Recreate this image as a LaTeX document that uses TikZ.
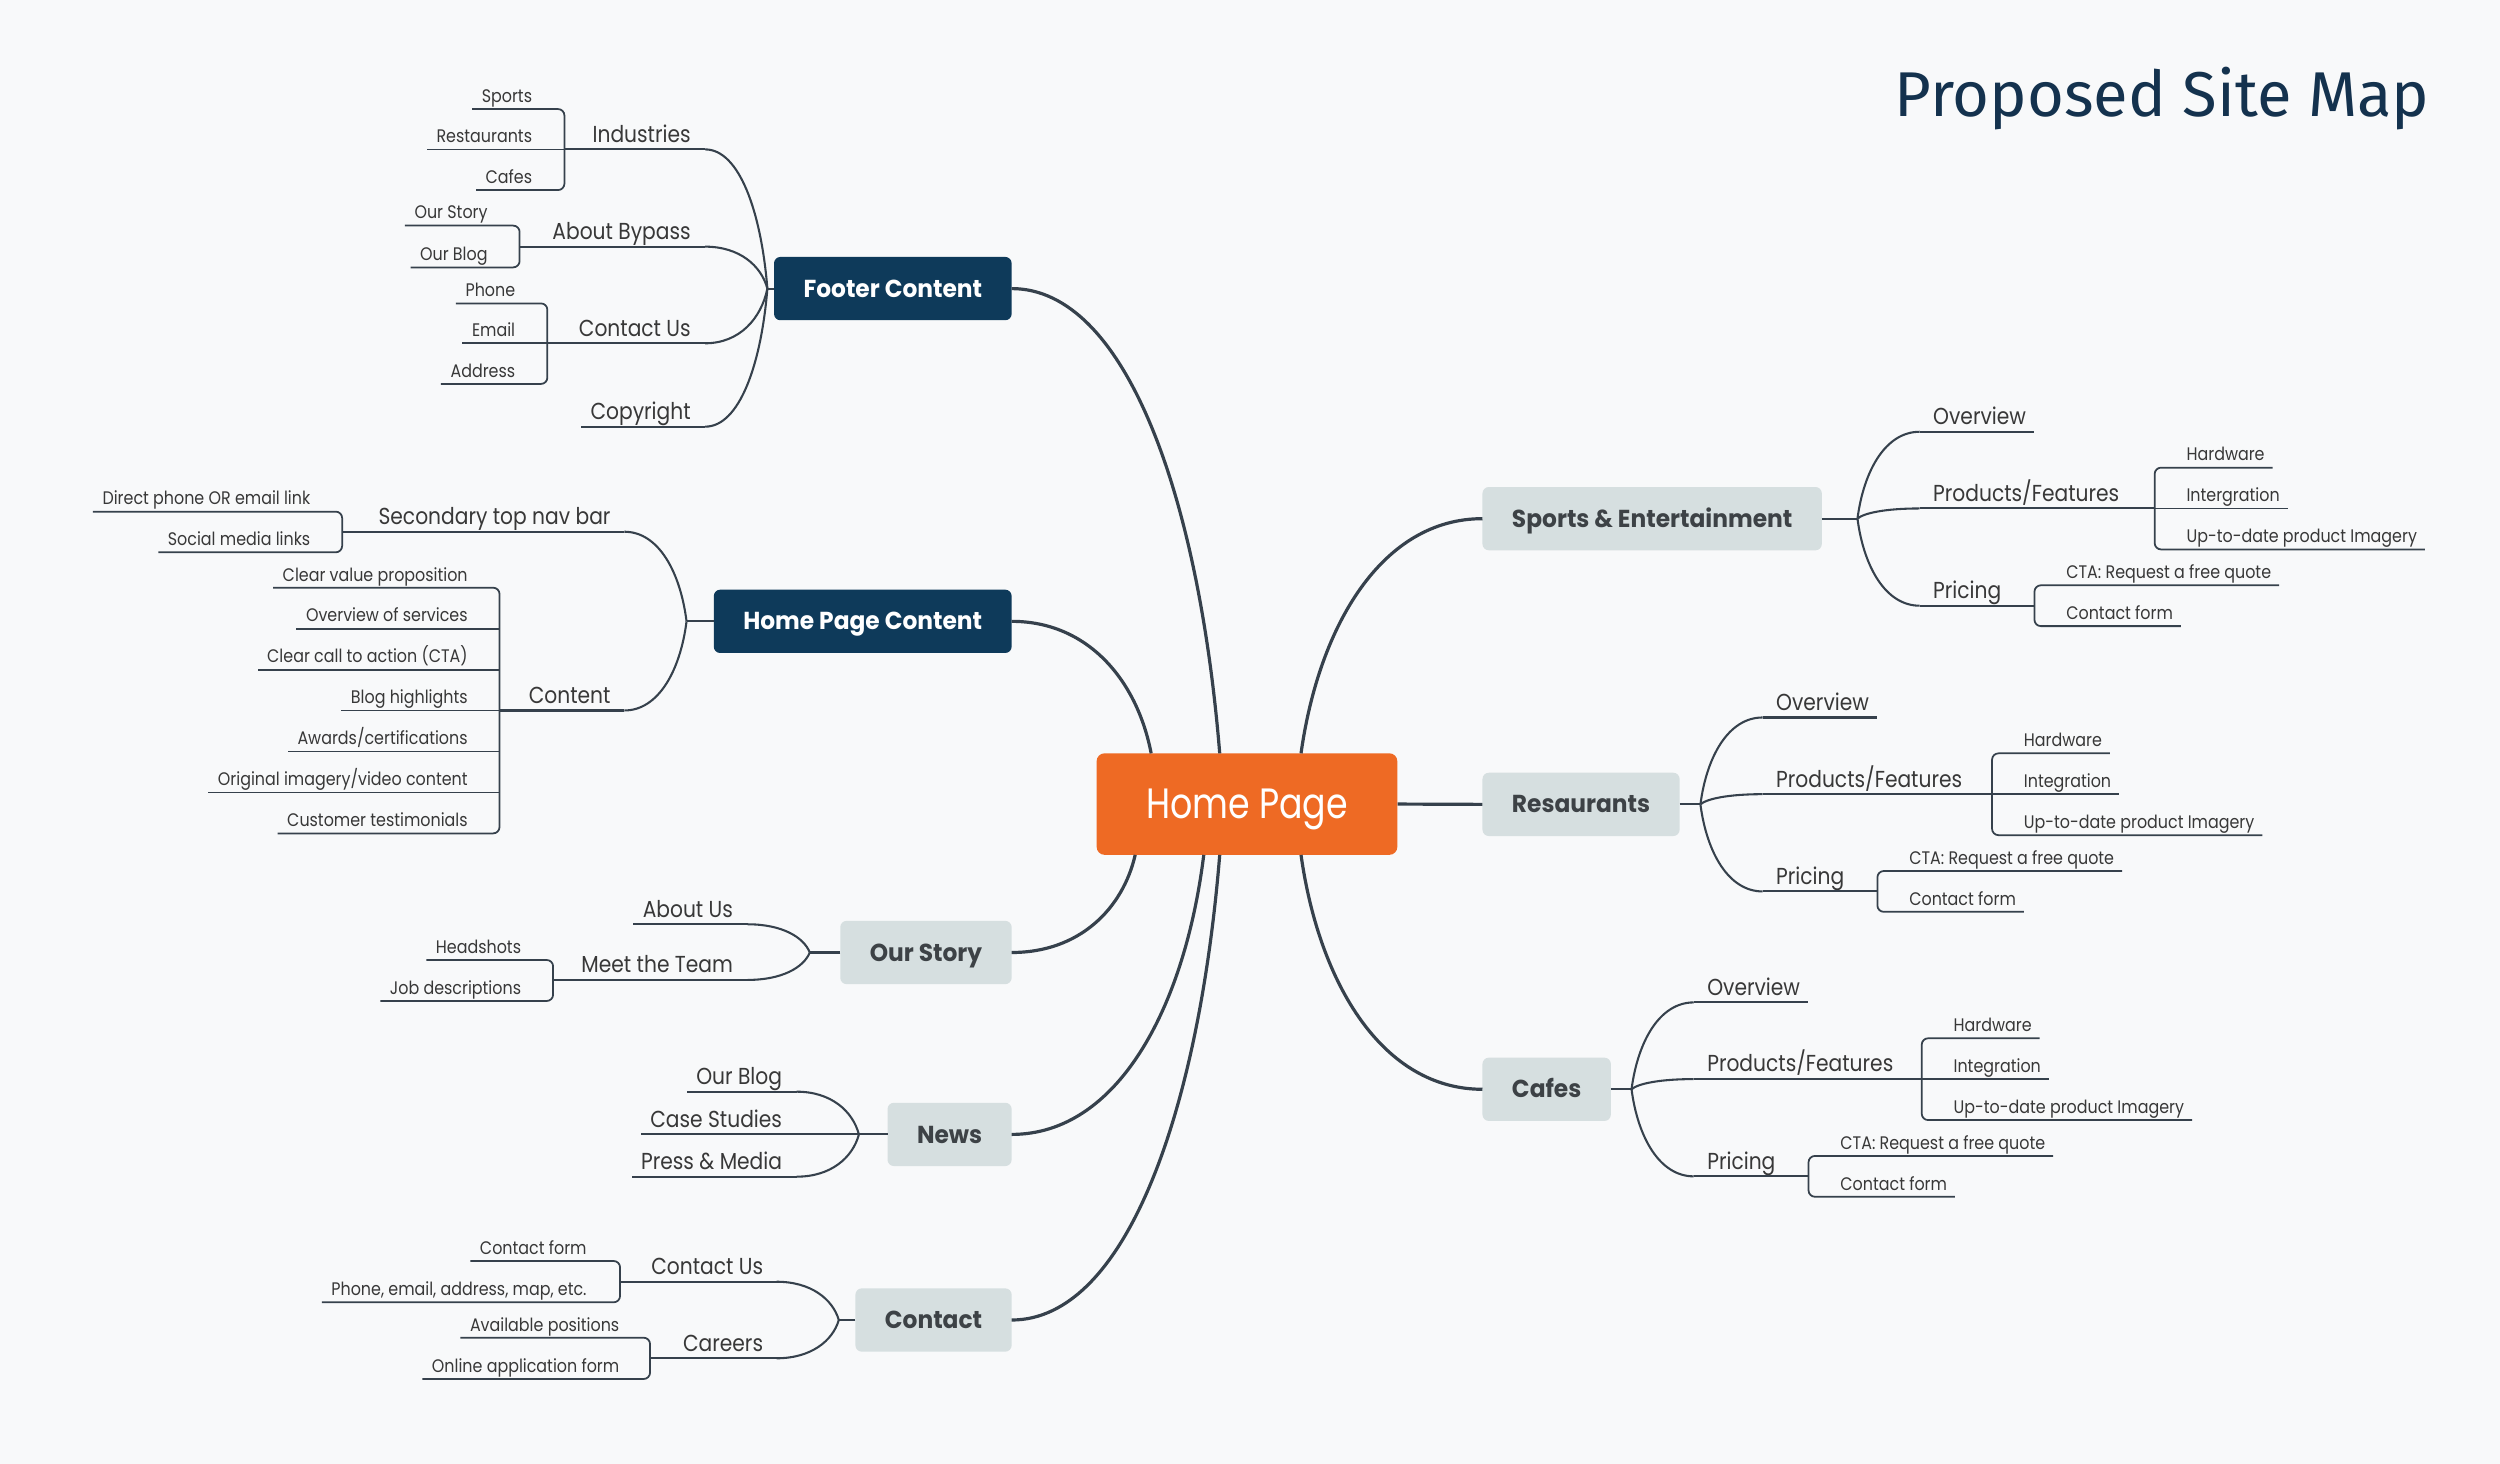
\documentclass[tikz,border=0pt]{standalone}
\usepackage{fontspec}
\setmainfont{Poppins}[FakeStretch=0.875]
\newfontfamily\boxff{Poppins}[FakeStretch=0.95]
\newfontfamily\homef{Poppins}[FakeStretch=0.82]
\newfontfamily\titlef{Fira Sans}
\usetikzlibrary{calc}
\definecolor{bgc}{HTML}{F8F9FA}
\definecolor{linec}{HTML}{36414C}
\definecolor{navyc}{HTML}{0E3A5A}
\definecolor{grayc}{HTML}{D6DFE0}
\definecolor{orangec}{HTML}{EE6A24}
\definecolor{txtc}{HTML}{383838}
\definecolor{boxtxtc}{HTML}{3D4246}
\definecolor{titlec}{HTML}{14324E}
\newcommand\mymedfont{\fontsize{14.5}{16}\selectfont}
\newcommand\mysmlfont{\fontsize{11.4}{13}\selectfont}
\newcommand\myboxfont{\boxff\bfseries\fontsize{15.4}{17}\selectfont}
\tikzset{
 mainln/.style={draw=linec, line width=2pt},
 br/.style={draw=linec, line width=1.3pt},
 lf/.style={draw=linec, line width=1.1pt},
 medt/.style={font=\mymedfont, text=txtc, inner sep=0pt, outer sep=0pt},
 smlt/.style={font=\mysmlfont, text=txtc, inner sep=0pt, outer sep=0pt},
 boxbase/.style={rounded corners=4pt, minimum height=39.7pt, inner xsep=18.5pt, inner ysep=0pt, font=\myboxfont, text height=10.8pt, text depth=0pt, outer sep=0pt},
 navybox/.style={boxbase, fill=navyc, text=white},
 graybox/.style={boxbase, fill=grayc, text=boxtxtc},
 homebox/.style={rounded corners=5pt, fill=orangec, text=white, minimum width=188.6pt, minimum height=63.7pt, inner sep=0pt, font=\homef\fontsize{26.6}{30}\selectfont, text height=18.5pt, text depth=0pt},
}
\newcommand\mycrv[3]{\draw[#1] let \p1=(#2), \p2=(#3) in (#2) .. controls ({\x1+0.1*(\x2-\x1)},{\y1+0.55*(\y2-\y1)}) and ({\x2+0.55*(\x1-\x2)},{\y2}) .. (#3);}
% right-side group: prefix, box node, fork x, fork y, integration word, subfork offset
\newcommand\myrgrp[6]{%
 \coordinate (#1F) at (#3,#4);
 \draw[br] (#2.east) -- (#1F);
 \coordinate (#1oL) at ({#3+39},{#4-54.5});
 \coordinate (#1pL) at ({#3+39},{#4-6.4});
 \coordinate (#1rL) at ({#3+39},{#4+54.6});
 \node[medt,anchor=base west] (#1o) at ({#3+47.5},{#4-59}) {Overview};
 \node[medt,anchor=base west] (#1p) at ({#3+47.5},{#4-10.9}) {Products/Features};
 \node[medt,anchor=base west] (#1r) at ({#3+47.5},{#4+50.1}) {Pricing};
 \mycrv{br}{#1F}{#1oL}
 \mycrv{br}{#1F}{#1pL}
 \mycrv{br}{#1F}{#1rL}
 \draw[br] (#1oL) -- (#1o.east |- #1oL) -- ++(5,0);
 \coordinate (#1X) at ({#3+#6},{#4-6.4});
 \coordinate (#1hA) at ({#3+#6},{#4-32});
 \coordinate (#1uA) at ({#3+#6},{#4+19.3});
 \draw[br] (#1pL) -- (#1X);
 \node[smlt,anchor=base west] (#1h) at ({#3+#6+20},{#4-36.2}) {Hardware};
 \node[smlt,anchor=base west] (#1i) at ({#3+#6+20},{#4-10.6}) {#5};
 \node[smlt,anchor=base west] (#1u) at ({#3+#6+20},{#4+15.1}) {Up-to-date product Imagery};
 \draw[lf,rounded corners=4pt] (#1h.east |- #1hA) ++(5,0) -- (#1hA) -- (#1uA) -- (#1u.east |- #1uA) -- ++(5,0);
 \draw[lf] (#1X) -- (#1i.east |- #1X) -- ++(5,0);
 \coordinate (#1Y) at ({#3+111},{#4+54.6});
 \coordinate (#1cA) at ({#3+111},{#4+41.8});
 \coordinate (#1fA) at ({#3+111},{#4+67.4});
 \draw[br] (#1rL) -- (#1Y);
 \node[smlt,anchor=base west] (#1c) at ({#3+131},{#4+37.6}) {CTA: Request a free quote};
 \node[smlt,anchor=base west] (#1f) at ({#3+131},{#4+63.2}) {Contact form};
 \draw[lf,rounded corners=4pt] (#1c.east |- #1cA) ++(5,0) -- (#1cA) -- (#1fA) -- (#1f.east |- #1fA) -- ++(5,0);
}
\begin{document}
\begin{tikzpicture}[x=1pt,y=-1pt]
\useasboundingbox (0,0) rectangle (1568,918);
\fill[bgc] (0,0) rectangle (1568,918);
% title
\node[font=\titlef\fontsize{39.7}{46}\selectfont, text=titlec, anchor=base east, inner sep=0pt] (title) at (1524,73.2) {Proposed Site Map};
% central and first-level boxes
\node[homebox] (home) at (782.1,504.3) {Home Page};
\node[navybox, anchor=east] (footer) at (634.5,181) {Footer Content};
\node[navybox, anchor=east] (hpc) at (634.5,389.7) {Home Page Content};
\node[graybox, anchor=east] (os) at (634.5,597.4) {Our Story};
\node[graybox, anchor=east] (news) at (634.5,711.5) {News};
\node[graybox, anchor=east] (ct) at (634.5,827.9) {Contact};
\node[graybox, anchor=west] (sbox) at (929.8,325.3) {Sports \& Entertainment};
\node[graybox, anchor=west] (rbox) at (929.8,504.5) {Resaurants};
\node[graybox, anchor=west] (cbox) at (929.8,683.2) {Cafes};
% main connectors
\coordinate (hT1) at (722,472.5);
\coordinate (hT2) at (765,472.5);
\coordinate (hT3) at (816,472.5);
\coordinate (hB1) at (712,536.2);
\coordinate (hB2) at (755,536.2);
\coordinate (hB3) at (765,536.2);
\coordinate (hB4) at (816,536.2);
\mycrv{mainln}{hT2}{footer.east}
\mycrv{mainln}{hT1}{hpc.east}
\mycrv{mainln}{hB1}{os.east}
\mycrv{mainln}{hB2}{news.east}
\mycrv{mainln}{hB3}{ct.east}
\mycrv{mainln}{hT3}{sbox.west}
\mycrv{mainln}{hB4}{cbox.west}
\draw[mainln] (home.east) -- (rbox.west);
% right groups
\myrgrp{s}{sbox}{1165}{325.3}{Intergration}{186.4}
\myrgrp{r}{rbox}{1066.5}{504.5}{Integration}{182.9}
\myrgrp{c}{cbox}{1023.3}{683.2}{Integration}{182}
% ---------- Footer Content ----------
\coordinate (fF) at (481.3,181);
\draw[br] (footer.west) -- (fF);
\coordinate (fiL) at (442.3,93.7);
\node[medt, anchor=base east] (fi) at (433.2,89.2) {Industries};
\mycrv{br}{fF}{fiL}
\coordinate (fiX) at (354,93.7);
\draw[br] (fiL) -- (fiX);
\coordinate (fiT) at (354,68.4);
\coordinate (fiB) at (354,119.2);
\node[smlt, anchor=base east] (fi1) at (333.7,64.2) {Sports};
\node[smlt, anchor=base east] (fi2) at (333.7,89.5) {Restaurants};
\node[smlt, anchor=base east] (fi3) at (333.7,115) {Cafes};
\draw[lf, rounded corners=4pt] (fi1.west |- fiT) ++(-6,0) -- (fiT) -- (fiB) -- (fi3.west |- fiB) -- ++(-6,0);
\draw[lf] (fiX) -- (fi2.west |- fiX) -- ++(-6,0);
\coordinate (faL) at (442.3,154.7);
\node[medt, anchor=base east] (fa) at (433.2,150.2) {About Bypass};
\mycrv{br}{fF}{faL}
\coordinate (faX) at (325.9,154.7);
\draw[br] (faL) -- (faX);
\coordinate (faT) at (325.9,141.5);
\coordinate (faB) at (325.9,167.7);
\node[smlt, anchor=base east] (fa1) at (305.8,137.3) {Our Story};
\node[smlt, anchor=base east] (fa2) at (305.8,163.5) {Our Blog};
\draw[lf, rounded corners=4pt] (fa1.west |- faT) ++(-6,0) -- (faT) -- (faB) -- (fa2.west |- faB) -- ++(-6,0);
\coordinate (fcL) at (442.3,215.3);
\node[medt, anchor=base east] (fc) at (433.2,210.8) {Contact Us};
\mycrv{br}{fF}{fcL}
\coordinate (fcX) at (343.3,215.3);
\draw[br] (fcL) -- (fcX);
\coordinate (fcT) at (343.3,190.3);
\coordinate (fcB) at (343.3,240.8);
\node[smlt, anchor=base east] (fc1) at (323.1,186.1) {Phone};
\node[smlt, anchor=base east] (fc2) at (323.1,211.1) {Email};
\node[smlt, anchor=base east] (fc3) at (323.1,236.6) {Address};
\draw[lf, rounded corners=4pt] (fc1.west |- fcT) ++(-6,0) -- (fcT) -- (fcB) -- (fc3.west |- fcB) -- ++(-6,0);
\draw[lf] (fcX) -- (fc2.west |- fcX) -- ++(-6,0);
\coordinate (fyL) at (442.3,267.6);
\node[medt, anchor=base east] (fy) at (433.2,263.1) {Copyright};
\mycrv{br}{fF}{fyL}
\draw[br] (fyL) -- (fy.west |- fyL) -- ++(-6,0);
% ---------- Home Page Content ----------
\coordinate (hF) at (430.6,389.7);
\draw[br] (hpc.west) -- (hF);
\coordinate (hsL) at (391.6,333.5);
\node[medt, anchor=base east] (hs) at (382.9,329) {Secondary top nav bar};
\mycrv{br}{hF}{hsL}
\coordinate (hsX) at (214.6,333.5);
\draw[br] (hsL) -- (hsX);
\coordinate (hsT) at (214.6,320.9);
\coordinate (hsB) at (214.6,346.4);
\node[smlt, anchor=base east] (hs1) at (194.6,316.7) {Direct phone OR email link};
\node[smlt, anchor=base east] (hs2) at (194.6,342.2) {Social media links};
\draw[lf, rounded corners=4pt] (hs1.west |- hsT) ++(-6,0) -- (hsT) -- (hsB) -- (hs2.west |- hsB) -- ++(-6,0);
\coordinate (hcL) at (391.6,445.6);
\node[medt, anchor=base east] (hc) at (382.9,441.1) {Content};
\mycrv{br}{hF}{hcL}
\coordinate (hcX) at (313.3,445.6);
\draw[br] (hcL) -- (hcX);
\coordinate (hcT) at (313.3,368.6);
\coordinate (hcB) at (313.3,522.7);
\coordinate (hc2A) at (313.3,394.3);
\coordinate (hc3A) at (313.3,420.0);
\coordinate (hc5A) at (313.3,471.3);
\coordinate (hc6A) at (313.3,497.0);
\node[smlt, anchor=base east] (hc1) at (293.3,364.4) {Clear value proposition};
\node[smlt, anchor=base east] (hc2) at (293.3,390.1) {Overview of services};
\node[smlt, anchor=base east] (hc3) at (293.3,415.8) {Clear call to action (CTA)};
\node[smlt, anchor=base east] (hc4) at (293.3,441.4) {Blog highlights};
\node[smlt, anchor=base east] (hc5) at (293.3,467.1) {Awards/certifications};
\node[smlt, anchor=base east] (hc6) at (293.3,492.8) {Original imagery/video content};
\node[smlt, anchor=base east] (hc7) at (293.3,518.5) {Customer testimonials};
\draw[lf, rounded corners=4pt] (hc1.west |- hcT) ++(-6,0) -- (hcT) -- (hcB) -- (hc7.west |- hcB) -- ++(-6,0);
\draw[lf] (hc2A) -- (hc2.west |- hc2A) -- ++(-6,0);
\draw[lf] (hc3A) -- (hc3.west |- hc3A) -- ++(-6,0);
\draw[lf] (hcX) -- (hc4.west |- hcX) -- ++(-6,0);
\draw[lf] (hc5A) -- (hc5.west |- hc5A) -- ++(-6,0);
\draw[lf] (hc6A) -- (hc6.west |- hc6A) -- ++(-6,0);
% ---------- Our Story ----------
\coordinate (oF) at (507.9,597.4);
\draw[br] (os.west) -- (oF);
\coordinate (oaL) at (468.9,579.7);
\node[medt, anchor=base east] (oa) at (459.7,575.2) {About Us};
\mycrv{br}{oF}{oaL}
\draw[br] (oaL) -- (oa.west |- oaL) -- ++(-6,0);
\coordinate (omL) at (468.9,614.6);
\node[medt, anchor=base east] (om) at (459.7,610.1) {Meet the Team};
\mycrv{br}{oF}{omL}
\coordinate (omX) at (346.9,614.6);
\draw[br] (omL) -- (omX);
\coordinate (omT) at (346.9,602.1);
\coordinate (omB) at (346.9,627.8);
\node[smlt, anchor=base east] (om1) at (326.8,597.9) {Headshots};
\node[smlt, anchor=base east] (om2) at (326.8,623.6) {Job descriptions};
\draw[lf, rounded corners=4pt] (om1.west |- omT) ++(-6,0) -- (omT) -- (omB) -- (om2.west |- omB) -- ++(-6,0);
% ---------- News ----------
\coordinate (nF) at (538.7,711.5);
\draw[br] (news.west) -- (nF);
\coordinate (nbL) at (499.7,684.7);
\node[medt, anchor=base east] (nb) at (490.5,680.2) {Our Blog};
\mycrv{br}{nF}{nbL}
\draw[br] (nbL) -- (nb.west |- nbL) -- ++(-6,0);
\node[medt, anchor=base east] (ns) at (490.5,707) {Case Studies};
\draw[br] (nF) -- (ns.west |- nF) -- ++(-6,0);
\coordinate (npL) at (499.7,738);
\node[medt, anchor=base east] (np) at (490.5,733.5) {Press \& Media};
\mycrv{br}{nF}{npL}
\draw[br] (npL) -- (np.west |- npL) -- ++(-6,0);
% ---------- Contact ----------
\coordinate (kF) at (526.1,827.9);
\draw[br] (ct.west) -- (kF);
\coordinate (kuL) at (487.1,803.9);
\node[medt, anchor=base east] (ku) at (478.6,799.4) {Contact Us};
\mycrv{br}{kF}{kuL}
\coordinate (kuX) at (388.9,803.9);
\draw[br] (kuL) -- (kuX);
\coordinate (kuT) at (388.9,790.9);
\coordinate (kuB) at (388.9,816.8);
\node[smlt, anchor=base east] (ku1) at (367.9,786.7) {Contact form};
\node[smlt, anchor=base east] (ku2) at (367.9,812.6) {Phone, email, address, map, etc.};
\draw[lf, rounded corners=4pt] (ku1.west |- kuT) ++(-6,0) -- (kuT) -- (kuB) -- (ku2.west |- kuB) -- ++(-6,0);
\coordinate (krL) at (487.1,851.9);
\node[medt, anchor=base east] (kr) at (478.6,847.4) {Careers};
\mycrv{br}{kF}{krL}
\coordinate (krX) at (407.7,851.9);
\draw[br] (krL) -- (krX);
\coordinate (krT) at (407.7,839);
\coordinate (krB) at (407.7,864.9);
\node[smlt, anchor=base east] (kr1) at (388.4,834.8) {Available positions};
\node[smlt, anchor=base east] (kr2) at (388.4,860.7) {Online application form};
\draw[lf, rounded corners=4pt] (kr1.west |- krT) ++(-6,0) -- (krT) -- (krB) -- (kr2.west |- krB) -- ++(-6,0);
\end{tikzpicture}
\end{document}
